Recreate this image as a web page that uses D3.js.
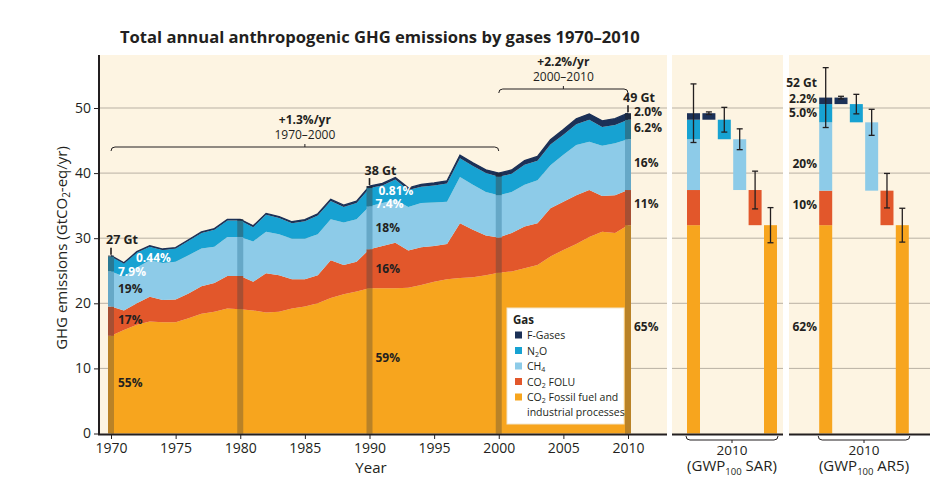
<!DOCTYPE html>
<html><head><meta charset="utf-8">
<script src="https://cdn.jsdelivr.net/npm/d3@7"></script>
<style>
body{margin:0;background:#fff;}
svg{display:block;font-family:"Open Sans",sans-serif;}
</style></head><body>
<svg id="chart" width="948" height="490"></svg>
<script>
// ---------------- DATA ----------------
const years = [1970,1971,1972,1973,1974,1975,1976,1977,1978,1979,1980,1981,1982,1983,1984,1985,1986,1987,1988,1989,1990,1991,1992,1993,1994,1995,1996,1997,1998,1999,2000,2001,2002,2003,2004,2005,2006,2007,2008,2009,2010];
const fossil = [15.0,15.9,16.7,17.2,17.1,17.1,17.7,18.4,18.7,19.2,19.1,18.9,18.6,18.7,19.2,19.5,20.0,20.8,21.4,21.8,22.3,22.3,22.3,22.4,22.8,23.3,23.7,23.9,24.0,24.3,24.7,24.9,25.4,25.9,27.2,28.2,29.1,30.2,31.0,30.8,32.0];
const folu   = [4.5,3.0,3.3,3.8,3.4,3.5,3.8,4.2,4.4,5.0,5.1,4.4,6.0,5.6,4.5,4.2,4.3,5.8,4.5,4.6,6.0,6.5,7.0,5.7,5.8,5.5,5.4,8.4,7.3,6.1,5.4,5.9,6.4,6.4,7.4,7.4,7.5,7.2,5.5,5.8,5.4];
const ch4    = [5.4,5.2,5.5,5.6,5.7,5.8,5.9,5.8,5.6,6.0,6.0,6.2,6.4,6.3,6.2,6.2,6.3,6.3,6.5,6.5,6.6,6.6,6.6,6.7,6.8,6.7,6.5,7.1,6.9,6.7,6.5,6.3,6.4,6.6,6.6,7.2,7.7,7.4,7.7,8.0,7.8];
const n2o    = [2.3,2.0,2.3,2.1,2.0,2.0,2.2,2.4,2.6,2.5,2.5,2.2,2.6,2.5,2.4,2.7,2.9,2.8,2.4,2.5,2.8,2.7,3.1,2.6,2.5,2.6,2.8,2.9,2.9,2.9,2.85,2.8,3.1,3.0,3.2,3.1,3.2,3.4,2.9,2.8,3.0];
const fgas   = [0.12,0.12,0.13,0.14,0.14,0.15,0.16,0.17,0.18,0.19,0.20,0.20,0.21,0.22,0.23,0.24,0.25,0.26,0.28,0.29,0.31,0.31,0.32,0.33,0.35,0.38,0.42,0.46,0.48,0.50,0.55,0.58,0.62,0.66,0.72,0.78,0.84,0.90,0.93,0.96,1.0];

const gasKeys   = ["fossil","folu","ch4","n2o","fgas"];
const gasColors = {fossil:"#f7a51e", folu:"#e2572b", ch4:"#8dcbe8", n2o:"#17a2d2", fgas:"#1c3157"};

const yTicks = [0,10,20,30,40,50];
const xTicks = [1970,1975,1980,1985,1990,1995,2000,2005,2010];
const markerYears = [1970,1980,1990,2000,2010];

// Right panels (order: F-Gases, N2O, CH4, CO2 FOLU, CO2 Fossil)
const panelCats = ["Total","fgas","n2o","ch4","folu","fossil"];
const sarValues = [1.0, 3.0, 7.8, 5.4, 32.0];
const sarUnc    = [0.2, 1.9, 1.6, 2.9, 2.7];
const sarTotalUnc = 4.5;
const ar5Values = [1.0, 2.8, 10.5, 5.3, 32.0];
const ar5Unc    = [0.2, 1.5, 2.0, 2.65, 2.6];
const ar5TotalUnc = 4.6;

// ---------------- SETUP ----------------
const svg = d3.select("#chart");
const BEIGE = "#fdf4e2";
const TXT = "#231f20";
const GRID = "#b9b1a4";

const x = d3.scaleLinear().domain([1970,2010]).range([111,628]);
const y = d3.scaleLinear().domain([0,50]).range([433.5,108]);

// parts: strings or {sub, dy}; subscript shifts down, following part shifts back up
function rich(sel, parts, subSize){
  let pending = 0;
  parts.forEach(p=>{
    if (typeof p === "string") {
      const ts = sel.append("tspan").text(p);
      if (pending) { ts.attr("dy", -pending); pending = 0; }
    } else {
      const d = p.dy||3;
      sel.append("tspan").attr("font-size", subSize).attr("dy", d).text(p.sub);
      pending = d;
    }
  });
}
function fitWidth(sel, w){
  const n = sel.node(); const cur = n.getComputedTextLength();
  const fs = parseFloat(sel.attr("font-size"));
  sel.attr("font-size", (fs*w/cur).toFixed(2));
}

// Backgrounds
const panels = [
  {x0:98, x1:667},
  {x0:672, x1:783},
  {x0:789, x1:930}
];
panels.forEach(p=>{
  svg.append("rect").attr("x",p.x0).attr("y",55).attr("width",p.x1-p.x0).attr("height",434-55).attr("fill",BEIGE);
  yTicks.filter(t=>t>0).forEach(t=>{
    svg.append("line").attr("x1",p.x0).attr("x2",p.x1).attr("y1",y(t)).attr("y2",y(t))
      .attr("stroke",GRID).attr("stroke-width",1);
  });
});

// Title
const title = svg.append("text").attr("x",120).attr("y",43).attr("font-size",16).attr("font-weight",700)
  .attr("fill",TXT).text("Total annual anthropogenic GHG emissions by gases 1970\u20132010");
fitWidth(title, 520);

// ---------------- MAIN AREA ----------------
const rows = years.map((yr,i)=>({year:yr, fossil:fossil[i], folu:folu[i], ch4:ch4[i], n2o:n2o[i], fgas:fgas[i]}));
const stacked = d3.stack().keys(gasKeys)(rows);
const area = d3.area().x(d=>x(d.data.year)).y0(d=>y(d[0])).y1(d=>y(d[1]));
svg.append("g").selectAll("path").data(stacked).join("path")
  .attr("d",area).attr("fill",d=>gasColors[d.key]);
svg.append("path").datum(stacked[4]).attr("fill","none").attr("stroke",gasColors.fgas).attr("stroke-width",1.3)
  .attr("d", d3.line().x(d=>x(d.data.year)).y(d=>y(d[1])));

// marker bars: darker tint of each layer
const totals = rows.map(r=>gasKeys.reduce((s,k)=>s+r[k],0));
markerYears.forEach(yr=>{
  const i = years.indexOf(yr);
  stacked.forEach(layer=>{
    const d = layer[i];
    const base = d3.hsl(gasColors[layer.key]);
    base.s *= 0.7;
    const c = base.darker(0.6);
    svg.append("rect").attr("x",x(yr)-3).attr("width",6).attr("y",y(d[1])).attr("height",Math.max(0,y(d[0])-y(d[1])))
      .attr("fill",c.formatHex());
  });
});

// Gt labels and ticks
[[1970,"27 Gt",29.1],[1990,"38 Gt",39.7],[2010,"49 Gt",50.92]].forEach(([yr,lab,v])=>{
  const i = years.indexOf(yr);
  svg.append("line").attr("x1",x(yr)).attr("x2",x(yr)).attr("y1",y(totals[i])-1).attr("y2",y(totals[i])-8)
    .attr("stroke",TXT).attr("stroke-width",1.6);
  svg.append("text").attr("x",x(yr)-5).attr("y",y(v)).attr("font-size",12.5).attr("font-weight",700)
    .attr("fill",TXT).text(lab);
});

// percent labels
const pctLabels = [
  [1970,7,7.14,"55%",TXT],[1970,7,16.82,"17%",TXT],[1970,7,21.58,"19%",TXT],[1970,7,24.25,"7.9%","#fff"],[1970,25,26.3,"0.44%","#fff"],
  [1990,6,10.98,"59%",TXT],[1990,6,24.65,"16%",TXT],[1990,6,31.0,"18%",TXT],[1990,6,34.65,"7.4%","#fff"],[1990,9,36.6,"0.81%","#fff"],
  [2010,6,48.7,"2.0%",TXT],[2010,6,46.25,"6.2%",TXT],[2010,6,40.94,"16%",TXT],[2010,6,34.64,"11%",TXT],[2010,6,15.75,"65%",TXT]
];
pctLabels.forEach(([yr,dx,v,t,c])=>{
  svg.append("text").attr("x",x(yr)+dx).attr("y",y(v)).attr("font-size",12).attr("font-weight",700)
    .attr("fill",c).text(t);
});

// growth brackets
function bracketTop(x0,x1,yb){
  const xc=(x0+x1)/2;
  svg.append("path").attr("fill","none").attr("stroke",TXT).attr("stroke-width",1)
    .attr("d",`M${x0},${yb+4} Q${x0},${yb} ${x0+4},${yb} L${x1-4},${yb} Q${x1},${yb} ${x1},${yb+4} M${xc},${yb} L${xc},${yb-3}`);
}
bracketTop(x(1970),x(2000),147);
bracketTop(x(2000),x(2010),89);
svg.append("text").attr("x",x(1985)).attr("y",124).attr("text-anchor","middle").attr("font-size",12).attr("font-weight",700).attr("fill",TXT).text("+1.3%/yr");
svg.append("text").attr("x",x(1985)).attr("y",139).attr("text-anchor","middle").attr("font-size",12).attr("fill",TXT).text("1970\u20132000");
svg.append("text").attr("x",x(2005)).attr("y",66).attr("text-anchor","middle").attr("font-size",12).attr("font-weight",700).attr("fill",TXT).text("+2.2%/yr");
svg.append("text").attr("x",x(2005)).attr("y",81).attr("text-anchor","middle").attr("font-size",12).attr("fill",TXT).text("2000\u20132010");

// axes
const yAxis = svg.append("g").attr("transform","translate(99,0)")
  .call(d3.axisLeft(y).tickValues(yTicks).tickSize(5).tickPadding(3).tickFormat(d3.format("d")));
yAxis.select(".domain").remove();
yAxis.selectAll("text").attr("font-size",14).attr("fill",TXT).attr("font-family","Open Sans");
yAxis.selectAll("line").attr("stroke",TXT);
const xAxis = svg.append("g").attr("transform","translate(0,434)")
  .call(d3.axisBottom(x).tickValues(xTicks).tickSize(5).tickPadding(4).tickFormat(d3.format("d")));
xAxis.select(".domain").remove();
xAxis.selectAll("text").attr("font-size",14).attr("fill",TXT).attr("font-family","Open Sans");
xAxis.selectAll("line").attr("stroke",TXT);

svg.append("line").attr("x1",99).attr("x2",99).attr("y1",55).attr("y2",435).attr("stroke",TXT).attr("stroke-width",2);
svg.append("line").attr("x1",98).attr("x2",667).attr("y1",434.5).attr("y2",434.5).attr("stroke",TXT).attr("stroke-width",2);

svg.append("text").attr("x",371).attr("y",473).attr("text-anchor","middle").attr("font-size",15).attr("fill",TXT).text("Year");
const yt = svg.append("text").attr("transform","translate(67,248) rotate(-90)").attr("text-anchor","middle")
  .attr("font-size",15).attr("fill",TXT);
rich(yt, ["GHG emissions (GtCO",{sub:"2"},"-eq/yr)"], 10);

// legend
const lg = svg.append("g");
lg.append("rect").attr("x",507).attr("y",308).attr("width",117).attr("height",116).attr("fill","#fff").attr("stroke","#f2e6cc");
lg.append("text").attr("x",513).attr("y",324).attr("font-size",11.5).attr("font-weight",700).attr("fill",TXT).text("Gas");
const legItems = [
  {k:"fgas", parts:["F-Gases"]},
  {k:"n2o", parts:["N",{sub:"2",dy:2},"O"]},
  {k:"ch4", parts:["CH",{sub:"4",dy:2}]},
  {k:"folu", parts:["CO",{sub:"2",dy:2}," FOLU"]},
  {k:"fossil", parts:["CO",{sub:"2",dy:2}," Fossil fuel and"]}
];
legItems.forEach((it,i)=>{
  const cy = 335 + i*15.5;
  lg.append("rect").attr("x",515).attr("y",cy-3.5).attr("width",7).attr("height",7).attr("fill",gasColors[it.k]);
  const t = lg.append("text").attr("x",527).attr("y",cy+4).attr("font-size",10.5).attr("fill",TXT);
  rich(t, it.parts, 7);
});
lg.append("text").attr("x",527).attr("y",335+4*15.5+4+15).attr("font-size",10.5).attr("fill",TXT).text("industrial processes");

// ---------------- RIGHT PANELS ----------------
function panel(values, unc, totalUnc, r0, r1, bx0, bx1, label){
  const px = d3.scalePoint().domain(panelCats).range([r0,r1]);
  const bw = 13;
  const keys = panelCats.slice(1);
  const total = d3.sum(values);
  let cum = 0;
  const order = [4,3,2,1,0];
  order.forEach(i=>{
    svg.append("rect").attr("x",px("Total")-bw/2).attr("width",bw).attr("y",y(cum+values[i])).attr("height",y(cum)-y(cum+values[i]))
      .attr("fill",gasColors[keys[i]]);
    cum += values[i];
  });
  let top = total;
  const tops = [];
  values.forEach((v,i)=>{
    svg.append("rect").attr("x",px(keys[i])-bw/2).attr("width",bw).attr("y",y(top)).attr("height",y(top-v)-y(top))
      .attr("fill",gasColors[keys[i]]);
    tops.push(top);
    top -= v;
  });
  function err(cx, c, u){
    const g = svg.append("g").attr("stroke",TXT).attr("stroke-width",1.3);
    g.append("line").attr("x1",cx).attr("x2",cx).attr("y1",y(c+u)).attr("y2",y(c-u));
    g.append("line").attr("x1",cx-3).attr("x2",cx+3).attr("y1",y(c+u)).attr("y2",y(c+u));
    g.append("line").attr("x1",cx-3).attr("x2",cx+3).attr("y1",y(c-u)).attr("y2",y(c-u));
  }
  err(px("Total"), total, totalUnc);
  values.forEach((v,i)=>err(px(keys[i]), tops[i], unc[i]));
  svg.append("line").attr("x1",bx0).attr("x2",bx1).attr("y1",434.5).attr("y2",434.5).attr("stroke",TXT).attr("stroke-width",2);
  const b0 = r0-bw/2-1, b1 = r1+bw/2+1, bc=(b0+b1)/2;
  svg.append("path").attr("fill","none").attr("stroke",TXT).attr("stroke-width",1)
    .attr("d",`M${b0},${436} Q${b0},${440} ${b0+4},${440} L${b1-4},${440} Q${b1},${440} ${b1},${436} M${bc},${440} L${bc},${443}`);
  svg.append("text").attr("x",bc).attr("y",455).attr("text-anchor","middle").attr("font-size",13.5).attr("fill",TXT).text("2010");
  const t = svg.append("text").attr("x",bc).attr("y",471).attr("text-anchor","middle").attr("font-size",15).attr("fill",TXT);
  rich(t, ["(GWP",{sub:"100",dy:4}," "+label+")"], 9.5);
}
panel(sarValues, sarUnc, sarTotalUnc, 693.5, 770.5, 672, 783, "SAR");
panel(ar5Values, ar5Unc, ar5TotalUnc, 825.7, 902.3, 789, 930, "AR5");

// AR5 labels
[[53.2,"52 Gt"],[50.8,"2.2%"],[48.6,"5.0%"],[40.8,"20%"],[34.5,"10%"],[15.75,"62%"]].forEach(([v,t])=>{
  svg.append("text").attr("x",817).attr("y",y(v)).attr("text-anchor","end").attr("font-size",12).attr("font-weight",700)
    .attr("fill",TXT).text(t);
});
</script>
</body></html>
